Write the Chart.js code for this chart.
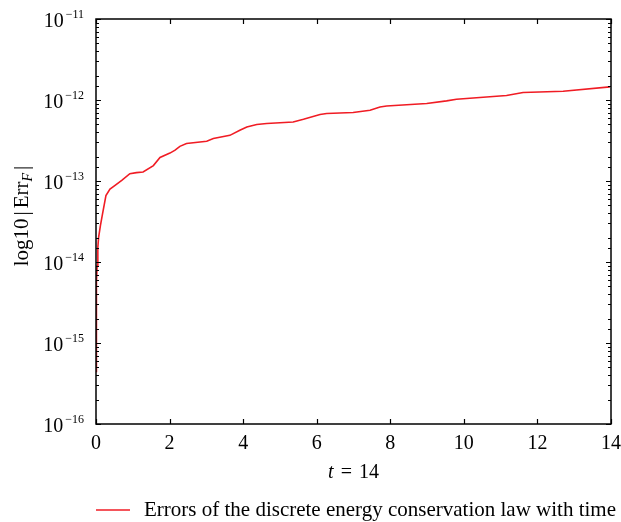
<!DOCTYPE html>
<html>
<head>
<meta charset="utf-8">
<script src="https://cdn.jsdelivr.net/npm/chart.js@4/dist/chart.umd.min.js"></script>
<style>
  html, body { margin: 0; padding: 0; background: #fff; }
  #wrap { width: 621px; height: 522px; position: relative; }
</style>
</head>
<body>
<div id="wrap"><canvas id="c"></canvas></div>
<script>
// values (time vs |Err_F|, log axis)
const timeT = [0, 0.005, 0.01, 0.02, 0.03, 0.05, 0.07, 0.12, 0.18, 0.27, 0.38, 0.5, 0.7, 0.92,
  1.1, 1.28, 1.56, 1.74, 2.01, 2.15, 2.28, 2.46, 3.01, 3.19, 3.64, 3.91, 4.1, 4.37, 4.64,
  5.36, 5.64, 6.09, 6.27, 6.99, 7.45, 7.72, 7.9, 8.99, 9.53, 9.8, 11.16, 11.61, 12.7, 13.97];
const errF = [4.47e-16, 1.0e-15, 2.51e-15, 5.62e-15, 8.91e-15, 1.51e-14, 2.0e-14, 2.82e-14,
  3.98e-14, 6.61e-14, 7.94e-14, 8.71e-14, 1.02e-13, 1.23e-13, 1.27e-13, 1.29e-13, 1.55e-13,
  1.95e-13, 2.21e-13, 2.40e-13, 2.68e-13, 2.90e-13, 3.09e-13, 3.34e-13, 3.66e-13, 4.23e-13,
  4.65e-13, 4.98e-13, 5.12e-13, 5.36e-13, 5.78e-13, 6.62e-13, 6.81e-13, 7.00e-13, 7.48e-13,
  8.20e-13, 8.45e-13, 9.06e-13, 9.75e-13, 1.023e-12, 1.138e-12, 1.239e-12, 1.285e-12, 1.452e-12];
const seriesLabel = "Errors of the discrete energy conservation law with time";
const xTitle = ["t", "=", "14"];
const yTitle = ["log10", "|", "Err", "F", "|"];

const SERIF = "'Liberation Serif', 'DejaVu Serif', serif";
const RED = "rgb(240,28,36)";

// box, inward ticks, superscript decade labels, axis titles and the legend row
const axisDecor = {
  id: "axisDecor",
  afterDraw(chart) {
    const { ctx, chartArea: a, scales } = chart;
    const x = scales.x, y = scales.y;
    ctx.save();
    ctx.strokeStyle = "#000";
    ctx.lineWidth = 1.5;
    ctx.strokeRect(a.left, a.top, a.right - a.left, a.bottom - a.top);

    ctx.lineWidth = 1.2;
    ctx.beginPath();
    x.ticks.forEach((t) => {
      const px = Math.round(x.getPixelForValue(t.value)) + 0.5;
      ctx.moveTo(px, a.bottom); ctx.lineTo(px, a.bottom - 5);
      ctx.moveTo(px, a.top); ctx.lineTo(px, a.top + 5);
    });
    y.ticks.forEach((t) => {
      const e = Math.log10(t.value);
      const major = Math.abs(e - Math.round(e)) < 1e-6;
      const len = major ? 5 : 3;
      const py = Math.round(y.getPixelForValue(t.value)) + 0.5;
      ctx.moveTo(a.left, py); ctx.lineTo(a.left + len, py);
      ctx.moveTo(a.right, py); ctx.lineTo(a.right - len, py);
    });
    ctx.stroke();

    // decade labels: 10 with raised exponent
    ctx.fillStyle = "#000";
    ctx.textBaseline = "alphabetic";
    y.ticks.forEach((t) => {
      const e = Math.log10(t.value);
      if (Math.abs(e - Math.round(e)) > 1e-6) return;
      const py = y.getPixelForValue(t.value);
      const exp = "\u2212" + Math.abs(Math.round(e));
      ctx.font = "12px " + SERIF;
      const ew = ctx.measureText(exp).width;
      const right = a.left - 12;
      ctx.textAlign = "left";
      ctx.fillText(exp, right - ew, py - 1);
      ctx.font = "20px " + SERIF;
      ctx.textAlign = "right";
      ctx.fillText("10", right - ew - 2, py + 8);
    });

    // x title: italic t = 14
    ctx.textAlign = "left";
    const gap = 7;
    ctx.font = "italic 20px " + SERIF;
    const w0 = ctx.measureText(xTitle[0]).width;
    ctx.font = "20px " + SERIF;
    const w1 = ctx.measureText(xTitle[1]).width;
    const w2 = ctx.measureText(xTitle[2]).width;
    let sx = (a.left + a.right) / 2 - (w0 + w1 + w2 + 2 * gap) / 2;
    ctx.font = "italic 20px " + SERIF;
    ctx.fillText(xTitle[0], sx, 478);
    ctx.font = "20px " + SERIF;
    ctx.fillText(xTitle[1], sx + w0 + gap, 478);
    ctx.fillText(xTitle[2], sx + w0 + w1 + 2 * gap, 478);

    // legend row: short red line + label
    ctx.strokeStyle = RED;
    ctx.lineWidth = 1.5;
    ctx.beginPath();
    ctx.moveTo(a.left, 510); ctx.lineTo(a.left + 34, 510);
    ctx.stroke();
    ctx.font = "21px " + SERIF;
    ctx.fillText(chart.data.datasets[0].label, 144, 516);

    // y title, rotated, with italic subscript F
    ctx.translate(28, 216);
    ctx.rotate(-Math.PI / 2);
    const parts = [
      { s: yTitle[0], f: "21px ", dy: 0, pad: 3 },
      { s: yTitle[1], f: "21px ", dy: 0, pad: 3 },
      { s: yTitle[2], f: "21px ", dy: 0, pad: 0 },
      { s: yTitle[3], f: "italic 14px ", dy: 4, pad: 3 },
      { s: yTitle[4], f: "21px ", dy: 0, pad: 0 },
    ];
    let total = 0;
    parts.forEach((p) => { ctx.font = p.f + SERIF; p.w = ctx.measureText(p.s).width; total += p.w + p.pad; });
    let tx = -total / 2;
    parts.forEach((p) => {
      ctx.font = p.f + SERIF;
      ctx.fillText(p.s, tx, p.dy);
      tx += p.w + p.pad;
    });
    ctx.restore();
  },
};

const points = timeT.map((t, i) => ({ x: t, y: errF[i] }));

new Chart(document.getElementById("c"), {
  type: "line",
  data: {
    datasets: [{
      label: seriesLabel,
      data: points,
      borderColor: RED,
      backgroundColor: RED,
      borderWidth: 1.6,
      pointRadius: 0,
      tension: 0,
    }],
  },
  options: {
    responsive: true,
    maintainAspectRatio: false,
    animation: false,
    layout: { padding: { left: 86, top: 19, right: 10, bottom: 0 } },
    plugins: {
      tooltip: { enabled: false },
      legend: { display: false },
    },
    scales: {
      x: {
        type: "linear",
        min: 0,
        max: 14,
        grid: { display: false, drawTicks: false },
        border: { display: false },
        ticks: { stepSize: 2, color: "#000", padding: 8, font: { family: SERIF, size: 20 } },
        afterFit: (s) => { s.height = 98; s.paddingLeft = 0; s.paddingRight = 0; },
      },
      y: {
        type: "logarithmic",
        min: 1e-16,
        max: 1e-11,
        grid: { display: false, drawTicks: false },
        border: { display: false },
        ticks: { display: false },
        afterFit: (s) => { s.width = 10; s.paddingTop = 0; s.paddingBottom = 0; },
      },
    },
  },
  plugins: [axisDecor],
});
</script>
</body>
</html>
